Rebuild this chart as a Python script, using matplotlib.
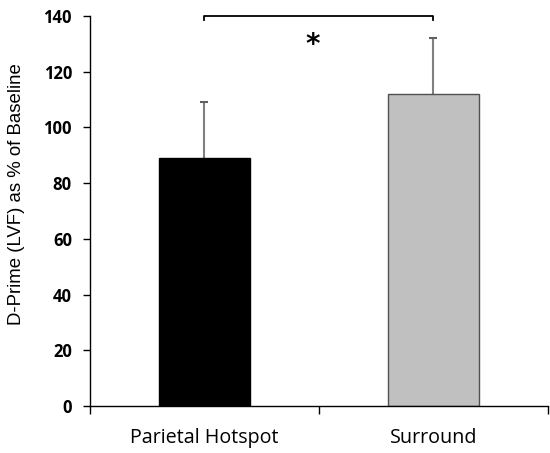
import matplotlib
matplotlib.use("Agg")
import matplotlib.pyplot as plt

categories = ["Parietal Hotspot", "Surround"]
values = [89, 112]
errors = [20, 20]
colors = ["#000000", "#c0c0c0"]
edgecolors = ["#000000", "#505050"]
yticks = [0, 20, 40, 60, 80, 100, 120, 140]
ylabel = "D-Prime (LVF) as % of Baseline"
sig_y = 140
sig_text = "*"

fig = plt.figure(figsize=(5.5, 4.53), dpi=100)
ax = fig.add_axes([0.1636, 0.1038, 0.8324, 0.8609])

x = list(range(len(categories)))
ax.bar(x, values, width=0.4, color=colors, edgecolor=edgecolors, linewidth=1.0, zorder=2)
tops = [v + e for v, e in zip(values, errors)]
ax.vlines(x, values, tops, color="#808080", lw=1.5, zorder=1)
ax.plot(x, tops, linestyle="none", marker="_", markersize=6, markeredgewidth=1.5,
        color="#606060", zorder=1)

ax.set_xlim(-0.5, 1.5)
ax.set_ylim(0, 140)
ax.set_yticks(yticks)
ax.set_yticklabels([str(t) for t in yticks], fontfamily="Open Sans", fontweight="bold", fontsize=12)
ax.set_xticks([-0.5, 0.5, 1.5])
ax.set_xticklabels([])
ax.set_xticks(x, minor=True)
ax.set_xticklabels(categories, minor=True, fontfamily="Open Sans", fontsize=14.2)
ax.tick_params(axis="x", which="minor", length=0, pad=16)
ax.tick_params(axis="x", which="major", length=6, direction="out", width=1)
ax.tick_params(axis="y", length=5, direction="out", width=1, pad=8)
ax.set_ylabel(ylabel, fontfamily="Liberation Sans", fontsize=13.4)
ax.yaxis.set_label_coords(-0.142, 0.544)

for s in ["top", "right"]:
    ax.spines[s].set_visible(False)
ax.spines["left"].set_linewidth(1)
ax.spines["bottom"].set_linewidth(1)

ax.plot([x[0], x[0], x[1], x[1]], [sig_y - 1.5, sig_y, sig_y, sig_y - 1.5],
        color="black", lw=1.3, clip_on=False)
ax.text((x[0] + x[1]) / 2 - 0.025, 129.5, sig_text, ha="center", va="center",
        fontsize=20, fontweight="bold", fontfamily="DejaVu Sans")

fig.savefig("out.png", dpi=100)
